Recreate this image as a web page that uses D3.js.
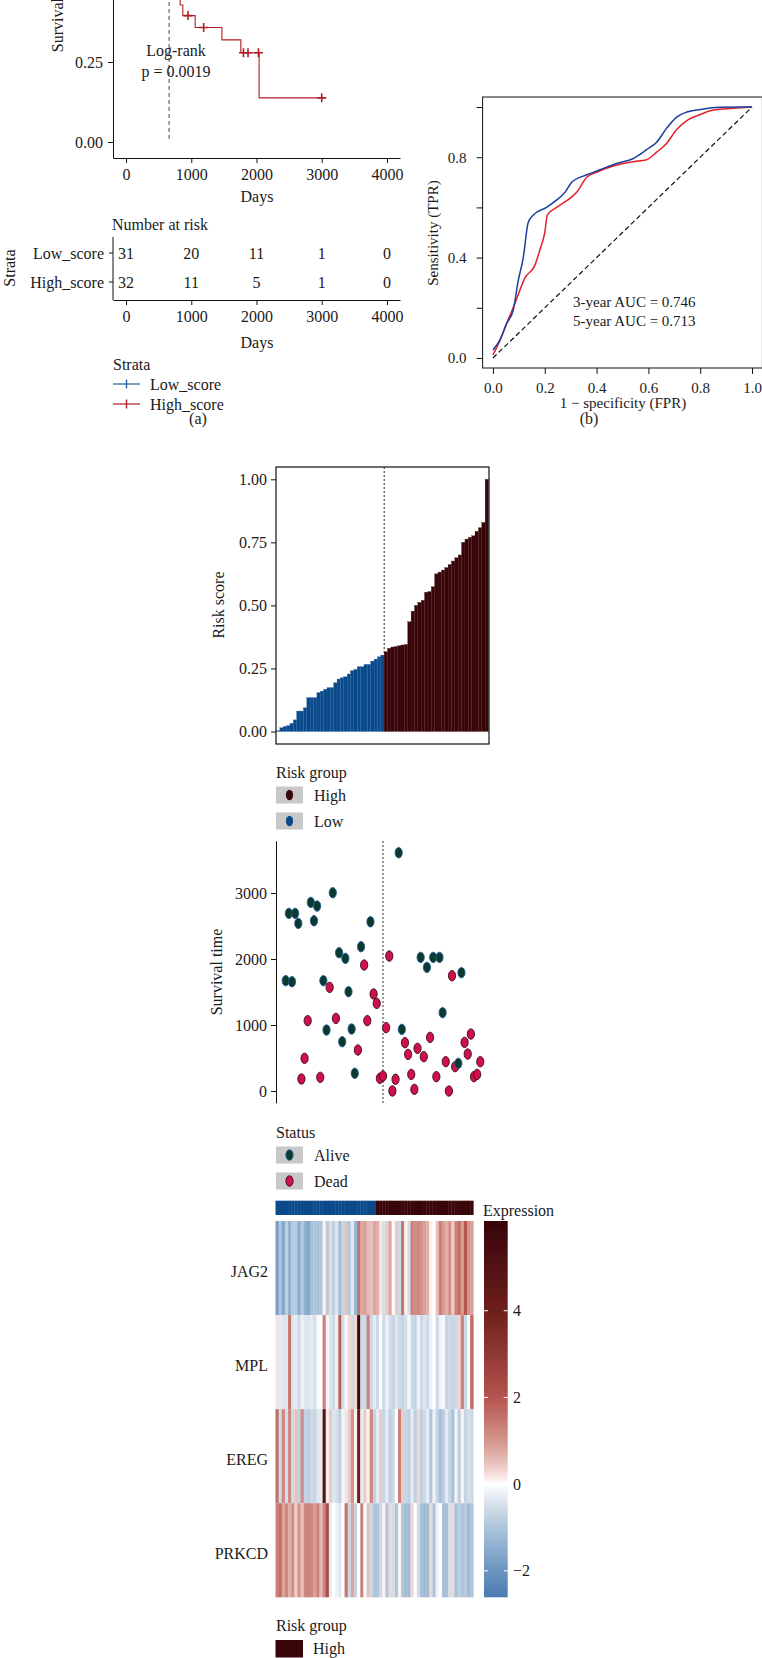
<!DOCTYPE html>
<html><head><meta charset="utf-8">
<script src="https://cdn.jsdelivr.net/npm/d3@7"></script>
<style>
html,body{margin:0;padding:0;background:#fff;}
svg{display:block;font-family:"Liberation Serif","Times New Roman",serif;}
</style></head><body>
<svg id="fig" width="762" height="1658"></svg>
<script>
// ---------------- DATA ----------------
const kmXTicks = [0, 1000, 2000, 3000, 4000];
const kmYTicks = [0, 0.25, 0.5, 0.75, 1];
const strataNames = ["Low_score", "High_score"];
const highTimes = [0,90,180,240,300,330,400,450,500,530,570,600,620,640,650,660,760,830,870,1060,1470,1760,2040,3020];
const highSurv  = [1,0.969,0.938,0.906,0.875,0.844,0.812,0.781,0.75,0.719,0.688,0.656,0.625,0.594,0.562,0.5,0.464,0.428,0.395,0.358,0.319,0.279,0.138,0.138];
const highCensorTimes = [950,1190,1800,1870,2030,3000];
const highCensorSurv  = [0.395,0.358,0.279,0.279,0.279,0.138];
const lowTimes = [0,200,450,700,1000,1400,1900,2100,2600,3650];
const lowSurv  = [1,0.968,0.935,0.903,0.866,0.82,0.76,0.69,0.6,0.6];
const lowCensorTimes = [1200,1700,2300,2800,3650];
const lowCensorSurv  = [0.866,0.82,0.69,0.6,0.6];
const medianHigh = 660;
const riskTableLow  = [31,20,11,1,0];
const riskTableHigh = [32,11,5,1,0];

const rocTicks = [0,0.2,0.4,0.6,0.8,1.0];
const rocLabelled = [0,0.4,0.8];
const roc3FPR = [0,0.027,0.053,0.078,0.098,0.117,0.136,0.156,0.207,0.246,0.278,0.304,0.362,0.413,0.477,0.542,0.593,0.632,0.67,0.709,0.748,0.8,0.876,0.954,1];
const roc3TPR = [0.032,0.072,0.138,0.19,0.31,0.40,0.54,0.57,0.60,0.63,0.66,0.70,0.73,0.75,0.775,0.795,0.83,0.86,0.915,0.96,0.98,0.99,0.999,1,1];
const roc5FPR = [0,0.027,0.053,0.085,0.124,0.162,0.181,0.2,0.21,0.246,0.297,0.323,0.362,0.40,0.465,0.542,0.593,0.632,0.67,0.709,0.754,0.8,0.85,0.928,1];
const roc5TPR = [0.012,0.07,0.138,0.218,0.32,0.37,0.43,0.50,0.57,0.60,0.636,0.66,0.72,0.74,0.765,0.782,0.79,0.82,0.855,0.91,0.95,0.97,0.988,0.995,1];
const aucLabels = ["3-year AUC = 0.746", "5-year AUC = 0.713"];

const riskScoreLow = [0.003,0.015,0.02,0.023,0.032,0.046,0.081,0.081,0.094,0.134,0.134,0.134,0.154,0.16,0.167,0.174,0.174,0.193,0.208,0.213,0.217,0.228,0.241,0.246,0.257,0.257,0.266,0.266,0.279,0.287,0.296,0.303];
const riskScoreHigh = [0.316,0.330,0.335,0.337,0.340,0.343,0.345,0.435,0.477,0.50,0.512,0.52,0.552,0.555,0.574,0.625,0.632,0.64,0.65,0.662,0.676,0.689,0.70,0.75,0.763,0.77,0.776,0.794,0.808,0.829,1.0];
const riskTicks = [0,0.25,0.5,0.75,1];

const survTime = [1672,2692,1656,2692,2540,182,495,1066,2858,2580,2803,207,1672,924,1570,3005,1100,2096,747,2010,1505,939,268,621,2187,1909,1066,2565,1470,1328,192,227,960,2045,0,177,3611,934,732,555,252,25,646,2025,520,1873,813,2025,217,2025,1187,444,0,1747,369,419,1793,737,560,863,217,252,444];
const survStatus = ["Alive","Alive","Alive","Alive","Alive","Dead","Dead","Dead","Alive","Alive","Alive","Dead","Alive","Alive","Dead","Alive","Dead","Alive","Alive","Alive","Alive","Alive","Alive","Dead","Alive","Dead","Dead","Alive","Dead","Dead","Dead","Dead","Dead","Dead","Dead","Dead","Alive","Alive","Dead","Dead","Dead","Dead","Dead","Alive","Dead","Alive","Dead","Alive","Dead","Alive","Alive","Dead","Dead","Dead","Dead","Alive","Alive","Dead","Dead","Dead","Dead","Dead","Dead"];
const survTicks = [0,1000,2000,3000];
const survCut = 32;

const genes = ["JAG2","MPL","EREG","PRKCD"];
const exprJAG2 = [-1.8,-1.0,-1.6,-0.8,-1.4,-0.9,-0.9,-1.5,-0.9,-1.4,-1.6,-1.1,-1.0,-1.1,-1.0,0.1,-0.9,0.3,-0.8,-0.4,-1.2,-0.7,0.5,-0.9,-0.3,-1.3,1.5,0.8,0.9,0.6,0.5,0.8,0.7,0.2,-0.5,0.4,0.8,0.0,0.4,-0.6,1.5,0.1,-0.5,1.3,1.1,1.2,1.0,0.9,0.7,0.1,0.0,0.5,1.3,0.9,0.7,1.1,0.4,1.3,1.6,0.9,2.0,1.0,0.9];
const exprMPL = [0.2,-0.3,-0.4,-0.4,1.5,-0.4,-0.3,-0.6,-0.2,-0.4,-0.4,-0.3,-0.5,-0.1,0.0,1.3,-0.1,-0.4,-0.6,-0.2,1.8,-0.5,-0.1,0.3,-0.6,0.3,5.8,-0.6,-0.6,1.3,-0.6,-0.3,-0.6,0.0,-0.6,-0.2,-0.5,-0.7,-0.4,-0.6,-0.7,-0.5,-0.1,-0.6,-0.7,-0.2,-0.6,-0.4,-0.6,-0.2,0.0,-0.6,-0.2,-0.1,-0.7,-0.6,-0.7,-0.6,0.3,1.3,-0.6,-0.1,1.6];
const exprEREG = [1.6,-0.6,1.2,-0.5,1.2,-0.6,0.5,-0.8,1.1,-0.7,-0.8,-0.6,-0.7,-0.4,-0.3,4.8,0.1,0.4,-0.4,-0.5,-0.8,0.1,-0.3,0.4,1.0,0.1,4.0,-0.3,0.4,0.1,1.2,-0.7,-0.3,0.4,-0.7,-0.3,-0.8,-0.6,0.0,1.3,0.4,-0.7,-0.8,-0.3,-0.8,0.3,-0.8,-0.6,-0.3,-1.0,-0.2,-0.7,-1.1,-0.8,-0.3,-0.7,-1.1,-0.2,-0.8,0.1,-0.7,-0.5,-0.6];
const exprPRKCD = [1.3,1.6,0.8,1.2,0.7,1.1,0.4,1.0,0.5,1.2,1.3,1.2,0.9,1.3,0.6,1.2,2.3,-0.3,0.0,-0.2,-0.4,0.0,1.5,-0.6,0.8,-0.7,0.0,1.3,0.0,0.5,-0.6,-1.0,-1.0,-0.6,0.1,-1.0,0.3,-0.5,-1.0,0.1,-1.0,-1.2,-1.2,0.3,0.0,-0.5,-1.1,-1.2,-1.2,0.3,-1.0,-0.2,0.0,-1.1,-1.1,-0.5,0.3,-1.1,-0.8,-1.0,-0.9,-1.2,-1.0];
const exprTicks = [-2,0,2,4];
const exprStops = [-2.61,-2,-1.3,-0.55,0,0.4,1,2,2.9,4,6.07];
const exprColors = ["#4a7db0","#6994c0","#97b7d4","#d0dbe7","#ffffff","#eccac5","#d4948c","#b4554f","#953b36","#6e1f1c","#380406"];

// ---------------- STYLE ----------------
const COL_LOW = "#2C5DA0", COL_HIGH = "#B01E24";
const COL_BLUE = "#0B4A8A", COL_DARK = "#380508";
const TXT = "#1a1a1a";
const svg = d3.select("#fig");
const intFmt = d3.format("d");

function text(g, x, y, s, o = {}) {
  const t = g.append("text").attr("x", x).attr("y", y).text(s)
    .attr("font-size", o.size || 16).attr("fill", o.fill || TXT)
    .attr("text-anchor", o.anchor || "start").attr("dy", o.dy || "0.35em");
  if (o.rotate) t.attr("transform", `rotate(-90,${x},${y})`);
  return t;
}
function styleAxis(g, size) {
  g.selectAll("text").attr("font-size", size || 16).attr("fill", TXT)
    .attr("font-family", '"Liberation Serif","Times New Roman",serif');
  g.selectAll("line").attr("stroke", "#111");
  g.selectAll("path.domain").attr("stroke", "#111");
}

// ================= (a) KM =================
const kmX = d3.scaleLinear().domain([-200, 4200]).range([113, 400]);
const kmY = d3.scaleLinear().domain([-0.05, 1.05]).range([158, -194]);
const km = svg.append("g");

const gy = km.append("g").attr("transform", "translate(113,0)")
  .call(d3.axisLeft(kmY).tickValues(kmYTicks).tickFormat(d3.format(".2f")).tickSize(5).tickPadding(5).tickSizeOuter(0));
styleAxis(gy);
const gx = km.append("g").attr("transform", "translate(0,158)")
  .call(d3.axisBottom(kmX).tickValues(kmXTicks).tickFormat(intFmt).tickSize(5).tickPadding(6).tickSizeOuter(0));
styleAxis(gx);

const stepLine = d3.line().x(d => kmX(d[0])).y(d => kmY(d[1])).curve(d3.curveStepAfter);
km.append("path").attr("d", `M${kmX(0)},${kmY(0.5)}H${kmX(medianHigh)}V${kmY(0)}`)
  .attr("fill", "none").attr("stroke", "#444").attr("stroke-width", 1).attr("stroke-dasharray", "4,3");
const curves = [
  {t: lowTimes, s: lowSurv, ct: lowCensorTimes, cs: lowCensorSurv, c: COL_LOW},
  {t: highTimes, s: highSurv, ct: highCensorTimes, cs: highCensorSurv, c: COL_HIGH}
];
curves.forEach(cv => {
  km.append("path").attr("d", stepLine(cv.t.map((t, i) => [t, cv.s[i]])))
    .attr("fill", "none").attr("stroke", cv.c).attr("stroke-width", 1.1);
  cv.ct.forEach((t, i) => {
    const x = kmX(t), y = kmY(cv.cs[i]);
    km.append("path").attr("d", `M${x-4.5},${y}H${x+4.5}M${x},${y-4.5}V${y+4.5}`)
      .attr("stroke", cv.c).attr("stroke-width", 1.6);
  });
});
text(km, 176, 50, "Log-rank", {anchor: "middle"});
text(km, 176, 71, "p = 0.0019", {anchor: "middle"});
text(km, 63, -12, "Survival probability", {anchor: "middle", rotate: true, dy: "0"});
text(km, 257, 196, "Days", {anchor: "middle"});

// risk table
const tabY = d3.scalePoint().domain(strataNames).range([253, 282]);
text(km, 112, 224, "Number at risk");
km.append("line").attr("x1", 113).attr("x2", 113).attr("y1", 237).attr("y2", 300).attr("stroke", "#111");
const tx = km.append("g").attr("transform", "translate(0,300)")
  .call(d3.axisBottom(kmX).tickValues(kmXTicks).tickFormat(intFmt).tickSize(5).tickPadding(6).tickSizeOuter(0));
styleAxis(tx);
strataNames.forEach((nm, r) => {
  const y = tabY(nm);
  km.append("line").attr("x1", 109).attr("x2", 113).attr("y1", y).attr("y2", y).attr("stroke", "#111");
  text(km, 104, y, nm, {anchor: "end"});
  const vals = r === 0 ? riskTableLow : riskTableHigh;
  vals.forEach((v, i) => text(km, kmX(kmXTicks[i]), y, String(v), {anchor: "middle"}));
});
text(km, 15, 268, "Strata", {anchor: "middle", rotate: true, dy: "0"});
text(km, 257, 342, "Days", {anchor: "middle"});
// legend
text(km, 113, 364, "Strata");
strataNames.forEach((nm, i) => {
  const y = 384 + i * 20, c = i === 0 ? COL_LOW : COL_HIGH;
  km.append("line").attr("x1", 113).attr("x2", 140).attr("y1", y).attr("y2", y).attr("stroke", c).attr("stroke-width", 1.2);
  km.append("line").attr("x1", 126.5).attr("x2", 126.5).attr("y1", y - 4.5).attr("y2", y + 4.5).attr("stroke", c).attr("stroke-width", 1.4);
  text(km, 150, y, nm);
});
text(svg, 198, 418, "(a)", {anchor: "middle"});

// ================= (b) ROC =================
const rocX = d3.scaleLinear().domain([-0.04, 1.04]).range([482.6, 762.4]);
const rocY = d3.scaleLinear().domain([-0.04, 1.04]).range([368, 97]);
const roc = svg.append("g");
roc.append("rect").attr("x", rocX(-0.04)).attr("y", rocY(1.04))
  .attr("width", rocX(1.04) - rocX(-0.04)).attr("height", rocY(-0.04) - rocY(1.04))
  .attr("fill", "none").attr("stroke", "#111").attr("stroke-width", 1);
const rx = roc.append("g").attr("transform", `translate(0,${rocY(-0.04)})`)
  .call(d3.axisBottom(rocX).tickValues(rocTicks).tickFormat(d3.format(".1f")).tickSize(6).tickPadding(8).tickSizeOuter(0));
rx.select(".domain").remove(); styleAxis(rx, 15);
const ry = roc.append("g").attr("transform", `translate(${rocX(-0.04)},0)`)
  .call(d3.axisLeft(rocY).tickValues(rocTicks).tickFormat(d => rocLabelled.some(v => Math.abs(v - d) < 1e-9) ? d3.format(".1f")(d) : "").tickSize(6).tickPadding(10).tickSizeOuter(0));
ry.select(".domain").remove(); styleAxis(ry, 15);
roc.append("line").attr("x1", rocX(0)).attr("y1", rocY(0)).attr("x2", rocX(1)).attr("y2", rocY(1))
  .attr("stroke", "#111").attr("stroke-width", 1.2).attr("stroke-dasharray", "5,3");
const rocLine = d3.line().x(d => rocX(d[0])).y(d => rocY(d[1])).curve(d3.curveMonotoneX);
roc.append("path").attr("d", rocLine(roc5FPR.map((f, i) => [f, roc5TPR[i]])))
  .attr("fill", "none").attr("stroke", "#E3202A").attr("stroke-width", 1.5);
roc.append("path").attr("d", rocLine(roc3FPR.map((f, i) => [f, roc3TPR[i]])))
  .attr("fill", "none").attr("stroke", "#1D3F9B").attr("stroke-width", 1.5);
text(roc, 573, 302, aucLabels[0], {size: 15});
text(roc, 573, 321, aucLabels[1], {size: 15});
text(roc, 623, 403, "1 \u2212 specificity (FPR)", {anchor: "middle", size: 15});
text(roc, 438, 233, "Sensitivity (TPR)", {anchor: "middle", size: 15, rotate: true, dy: "0"});
text(svg, 589, 418, "(b)", {anchor: "middle"});

// ================= Risk score bars =================
const nLow = riskScoreLow.length;
const riskAll = riskScoreLow.concat(riskScoreHigh);
const bx = d3.scaleBand().domain(d3.range(riskAll.length)).range([276.5, 488.5]).padding(0);
const by = d3.scaleLinear().domain([-0.05, 1.05]).range([744.1, 466.7]);
const rb = svg.append("g");
const cutX = bx(nLow);
rb.append("line").attr("x1", cutX).attr("x2", cutX).attr("y1", 467).attr("y2", by(0))
  .attr("stroke", "#333").attr("stroke-width", 1.1).attr("stroke-dasharray", "2,2");
rb.selectAll("rect.bar").data(riskAll).enter().append("rect")
  .attr("x", (d, i) => bx(i)).attr("width", bx.bandwidth())
  .attr("y", d => by(d)).attr("height", d => by(0) - by(d))
  .attr("fill", (d, i) => i < nLow ? COL_BLUE : COL_DARK)
  .attr("stroke", (d, i) => i < nLow ? "#215e9c" : "#4d1a1e").attr("stroke-width", 0.3);
rb.append("rect").attr("x", 276).attr("y", 467).attr("width", 213).attr("height", 277)
  .attr("fill", "none").attr("stroke", "#111").attr("stroke-width", 1.2);
const rby = rb.append("g").attr("transform", "translate(276,0)")
  .call(d3.axisLeft(by).tickValues(riskTicks).tickFormat(d3.format(".2f")).tickSize(5).tickPadding(4).tickSizeOuter(0));
rby.select(".domain").remove(); styleAxis(rby);
text(rb, 224, 605, "Risk score", {anchor: "middle", rotate: true, dy: "0"});
text(rb, 276, 772, "Risk group");
[["High", COL_DARK], ["Low", COL_BLUE]].forEach((k, i) => {
  const cy = 795 + i * 26;
  rb.append("rect").attr("x", 276).attr("y", cy - 8.5).attr("width", 27).attr("height", 17).attr("fill", "#c8c8c8");
  rb.append("ellipse").attr("cx", 289.5).attr("cy", cy).attr("rx", 3.6).attr("ry", 5.2).attr("fill", k[1]);
  text(rb, 314, cy, k[0]);
});

// ================= Survival scatter =================
const sx = d3.scaleLinear().domain([-2.1, 66.1]).range([276, 490]);
const sy = d3.scaleLinear().domain([-180.55, 3791.55]).range([1102.9, 840.8]);
const sc = svg.append("g");
const sya = sc.append("g").attr("transform", "translate(276,0)")
  .call(d3.axisLeft(sy).tickValues(survTicks).tickFormat(intFmt).tickSize(5).tickPadding(4).tickSizeOuter(0));
styleAxis(sya);
sc.append("line").attr("x1", sx(survCut)).attr("x2", sx(survCut)).attr("y1", 841).attr("y2", 1103)
  .attr("stroke", "#444").attr("stroke-width", 1.1).attr("stroke-dasharray", "2,2");
const ptStyle = {Alive: {fill: "#0B3A2C", stroke: "#1E5A98"}, Dead: {fill: "#CF104C", stroke: "#3a0a12"}};
sc.selectAll("ellipse.pt").data(survTime).enter().append("ellipse")
  .attr("cx", (d, i) => sx(i + 1)).attr("cy", d => sy(d)).attr("rx", 3.6).attr("ry", 5.2)
  .attr("fill", (d, i) => ptStyle[survStatus[i]].fill).attr("stroke", (d, i) => ptStyle[survStatus[i]].stroke).attr("stroke-width", 0.9);
text(sc, 222, 972, "Survival time", {anchor: "middle", rotate: true, dy: "0"});
text(sc, 276, 1132, "Status");
["Alive", "Dead"].forEach((k, i) => {
  const cy = 1155 + i * 26;
  sc.append("rect").attr("x", 276).attr("y", cy - 8.5).attr("width", 27).attr("height", 17).attr("fill", "#c8c8c8");
  sc.append("ellipse").attr("cx", 289.5).attr("cy", cy).attr("rx", 3.6).attr("ry", 5.2)
    .attr("fill", ptStyle[k].fill).attr("stroke", ptStyle[k].stroke).attr("stroke-width", 0.9);
  text(sc, 314, cy, k);
});

// ================= Heatmap =================
const exprRows = [exprJAG2, exprMPL, exprEREG, exprPRKCD];
const nCol = exprJAG2.length;
const hx = d3.scaleBand().domain(d3.range(nCol)).range([275.5, 473.3]).padding(0);
const hy = d3.scaleBand().domain(genes).range([1221, 1597.3]).padding(0);
const hcol = d3.scaleLinear().domain(exprStops).range(exprColors).interpolate(d3.interpolateLab).clamp(true);
const hm = svg.append("g");
hm.selectAll("rect.ann").data(d3.range(nCol)).enter().append("rect")
  .attr("x", i => hx(i)).attr("width", hx.bandwidth() + 0.3).attr("y", 1200.7).attr("height", 14.3)
  .attr("fill", i => i < nLow ? COL_BLUE : COL_DARK);
genes.forEach((g, r) => {
  hm.selectAll(null).data(exprRows[r]).enter().append("rect")
    .attr("x", (d, i) => hx(i)).attr("width", hx.bandwidth() + 0.3)
    .attr("y", hy(g)).attr("height", hy.bandwidth())
    .attr("fill", d => hcol(d));
  text(hm, 268, hy(g) + hy.bandwidth() / 2 + 3, g, {anchor: "end"});
});
const cbY = d3.scaleLinear().domain([-2.61, 6.07]).range([1597.3, 1221]);
const grad = svg.append("defs").append("linearGradient").attr("id", "cbg")
  .attr("x1", 0).attr("y1", 1).attr("x2", 0).attr("y2", 0);
d3.range(0, 1.0001, 0.02).forEach(f => {
  const v = -2.61 + f * (6.07 + 2.61);
  grad.append("stop").attr("offset", f).attr("stop-color", hcol(v));
});
hm.append("rect").attr("x", 484).attr("y", 1221).attr("width", 23.7).attr("height", 376.3).attr("fill", "url(#cbg)");
exprTicks.forEach(t => {
  const y = cbY(t);
  hm.append("line").attr("x1", 484).attr("x2", 488).attr("y1", y).attr("y2", y).attr("stroke", "#fff").attr("stroke-width", 1);
  hm.append("line").attr("x1", 503.7).attr("x2", 507.7).attr("y1", y).attr("y2", y).attr("stroke", "#fff").attr("stroke-width", 1);
  text(hm, 513, y, t < 0 ? "\u2212" + Math.abs(t) : String(t));
});
text(hm, 483, 1210, "Expression");
text(hm, 276, 1625, "Risk group");
hm.append("rect").attr("x", 275.5).attr("y", 1640).attr("width", 27.5).attr("height", 17.5).attr("fill", COL_DARK);
text(hm, 313, 1648, "High");
</script>
</body></html>
